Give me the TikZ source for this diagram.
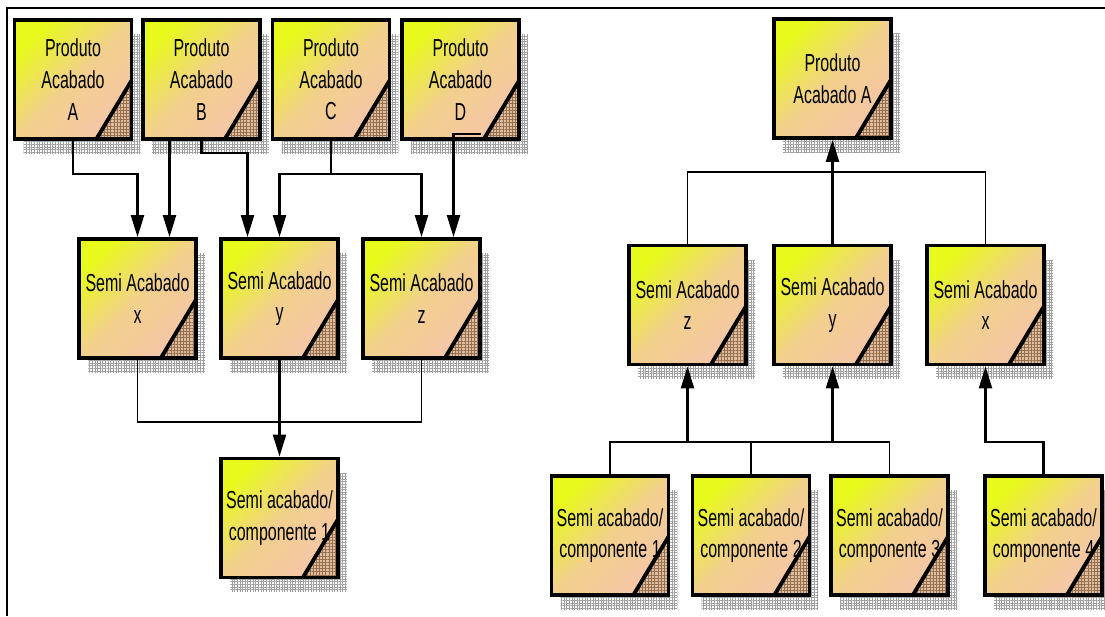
\documentclass[tikz,border=0pt]{standalone}
\usepackage{fontspec}
\newfontfamily\boxfont{Liberation Sans}[FakeStretch=0.65]
\usetikzlibrary{calc,arrows.meta,shadows,patterns.meta}

\definecolor{boxYellow}{RGB}{232,250,28}
\definecolor{boxMid}{RGB}{242,208,140}
\definecolor{boxPeach}{RGB}{245,198,168}
\definecolor{foldBrown}{RGB}{222,190,158}
\definecolor{foldMesh}{RGB}{150,112,78}
\definecolor{meshGray}{RGB}{160,160,160}

\begin{document}
\begin{tikzpicture}[x=0.02cm, y=-0.02cm]
    % -----------------------------
    % Parameters (one unit = one pixel of the sketch)
    % -----------------------------
    \def\bw{2.34cm}      % box width
    \def\bh{2.38cm}      % box height
    \def\lw{2.2pt}       % box outline
    \def\pinOff{32}      % second input pin, offset from the box centre
    \def\pbb{path picture bounding box}

    % -----------------------------
    % Styles
    % -----------------------------
    \tikzset{
      item/.style={rectangle, draw=black, line width=\lw, inner sep=0pt,
        minimum width=\bw, minimum height=\bh, align=center,
        font=\boxfont\fontsize{14pt}{18pt}\selectfont,
        top color=boxYellow, bottom color=boxPeach, middle color=boxMid,
        shading angle=45,
        drop shadow={shadow xshift=0.18cm, shadow yshift=-0.29cm, opacity=1,
          pattern={Hatch[distance=1.5pt, line width=0.35pt]}, pattern color=meshGray},
        path picture={
          \path[fill=foldBrown, postaction={pattern={Hatch[distance=1.8pt, line width=0.3pt]}, pattern color=foldMesh}]
            ($(\pbb.south east)!0.49!(\pbb.north east)$) -- (\pbb.south east)
            -- ($(\pbb.south east)!0.30!(\pbb.south west)$) -- cycle;
          \draw[line width=\lw] ($(\pbb.south east)!0.49!(\pbb.north east)$)
            -- ($(\pbb.south east)!0.30!(\pbb.south west)$);
        }},
      bus/.style={line width=1pt},
      feed/.style={line width=1.3pt, -{Triangle[length=0.44cm, width=0.26cm]}},
      frame/.style={line width=1.4pt}
    }

    \useasboundingbox (0,0) rectangle (1105,616);
    \draw[frame] (7,616) -- (7,8) -- (1105,8);

    % -----------------------------
    % Left tree: products down to the component
    % -----------------------------
    \node[item] (pA) at (73,79.5)  {Produto\\Acabado\\A};
    \node[item] (pB) at (201.5,79.5) {Produto\\Acabado\\B};
    \node[item] (pC) at (331,79.5) {Produto\\Acabado\\C};
    \node[item] (pD) at (460.5,79.5) {Produto\\Acabado\\D};

    \node[item] (sx) at (137.5,298.5) {Semi Acabado\\x};
    \node[item] (sy) at (279.5,298.5) {Semi Acabado\\y};
    \node[item] (sz) at (421.5,298.5) {Semi Acabado\\z};

    \node[item] (cOne) at (279.5,518) {Semi acabado/\\componente 1};

    % bus heights and second pins
    \coordinate (busAC) at (0,174);
    \coordinate (busB)  at (0,153);
    \coordinate (busX)  at (0,422);
    \coordinate (xPin) at ($(sx.north)+(\pinOff,0)$);
    \coordinate (yPin) at ($(sy.north)+(-\pinOff,0)$);
    \coordinate (zPin) at ($(sz.north)+(\pinOff,0)$);

    \draw[feed] (pA.south) |- (sx.north |- busAC) -- (sx.north);
    \draw[feed] (pB.south -| xPin) -- (xPin);
    \draw[feed] (pB.south) |- (yPin |- busB) -- (yPin);
    \draw[feed] (pC.south) |- (sy.north |- busAC) -- (sy.north);
    \draw[feed] (pC.south |- busAC) -| (sz.north);
    \draw[feed] ([shift={(20,-7)}]pD.south) -| (zPin);

    \draw[bus] (sx.south) |- (sz.south |- busX) -- (sz.south);
    \draw[feed] (sy.south) -- (cOne.north);

    % -----------------------------
    % Right tree: components up to the product
    % -----------------------------
    \node[item] (rA) at (832.5,78.5) {Produto\\Acabado A};

    \node[item] (rz) at (687.5,305) {Semi Acabado\\z};
    \node[item] (ry) at (832.5,305) {Semi Acabado\\y};
    \node[item] (rx) at (985.5,305) {Semi Acabado\\x};

    \node[item] (cR1) at (610,535.5)    {Semi acabado/\\componente 1};
    \node[item] (cR2) at (751,535.5)    {Semi acabado/\\componente 2};
    \node[item] (cR3) at (889.5,535.5)  {Semi acabado/\\componente 3};
    \node[item] (cR4) at (1043.5,535.5) {Semi acabado/\\componente 4};

    \coordinate (busTop) at (0,172);
    \coordinate (busBot) at (0,442);

    \draw[bus] (rz.north) |- (rx.north |- busTop) -- (rx.north);
    \draw[feed] (ry.north) -- (rA.south);

    \draw[bus] (cR1.north) |- (cR3.north |- busBot) -- (cR3.north);
    \draw[bus] (cR2.north) -- (cR2.north |- busBot);
    \draw[feed] (rz.south |- busBot) -- (rz.south);
    \draw[feed] (ry.south |- busBot) -- (ry.south);
    \draw[feed] (cR4.north) |- (rx.south |- busBot) -- (rx.south);

\end{tikzpicture}
\end{document}
